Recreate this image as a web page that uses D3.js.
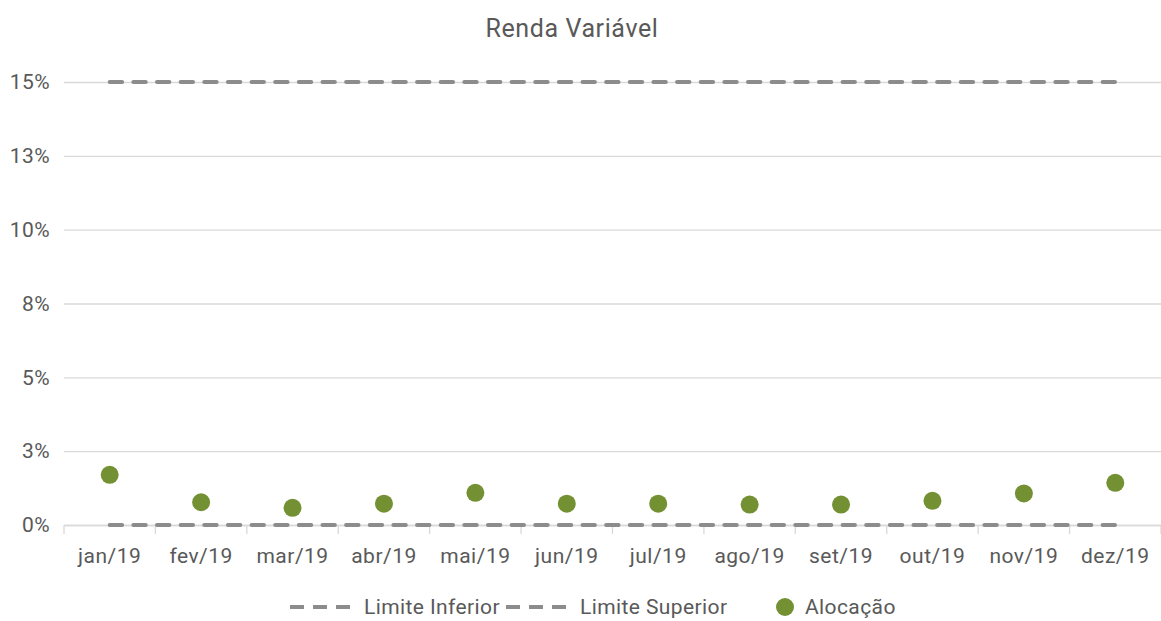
<!DOCTYPE html>
<html>
<head>
<meta charset="utf-8">
<script src="https://cdn.jsdelivr.net/npm/d3@7"></script>
<style>
  body { margin: 0; background: #fff; }
  text { font-family: Roboto, "Noto Sans", sans-serif; fill: #595959; }
</style>
</head>
<body>
<svg id="chart" width="1161" height="621"></svg>
<script>
const months = ['jan/19','fev/19','mar/19','abr/19','mai/19','jun/19','jul/19','ago/19','set/19','out/19','nov/19','dez/19'];
const alocacao = [1.70, 0.77, 0.58, 0.72, 1.09, 0.72, 0.72, 0.69, 0.69, 0.82, 1.07, 1.43];
const limiteInferior = [0,0,0,0,0,0,0,0,0,0,0,0];
const limiteSuperior = [15,15,15,15,15,15,15,15,15,15,15,15];
const yTicks = [0, 2.5, 5, 7.5, 10, 12.5, 15];

const w = 1161, h = 621;
const m = {top: 82, right: 0, bottom: 96, left: 64};
const svg = d3.select('#chart');

const x = d3.scaleBand().domain(months).range([m.left, w - m.right]);
const y = d3.scaleLinear().domain([0, 15]).range([h - m.bottom, m.top]);

// title
svg.append('text')
  .attr('x', 572).attr('y', 37)
  .attr('text-anchor', 'middle')
  .style('font-size', '25px')
  .style('letter-spacing', '0.6px')
  .text('Renda Variável');

// gridlines + y labels
const yAxis = d3.axisLeft(y)
  .tickValues(yTicks)
  .tickSize(-(w - m.left - m.right))
  .tickPadding(14)
  .tickFormat(d => Math.round(d) + '%');
const gy = svg.append('g')
  .attr('transform', 'translate(' + m.left + ',0)')
  .call(yAxis);
gy.select('.domain').remove();
gy.selectAll('line').attr('stroke', '#d9d9d9').attr('stroke-width', 1.3);
gy.selectAll('text').style('font-size', '21px').style('letter-spacing', '0.4px').attr('fill', '#595959');

// x axis
const xAxis = d3.axisBottom(x).tickSize(0).tickPadding(23);
const gx = svg.append('g')
  .attr('transform', 'translate(0,' + y(0) + ')')
  .call(xAxis);
gx.select('.domain').attr('stroke', '#d9d9d9').attr('stroke-width', 1.3);
gx.selectAll('text').style('font-size', '21px').style('letter-spacing', '0.5px').attr('fill', '#595959');
// tick marks at band boundaries
gx.selectAll('.bound')
  .data(months.concat(['end']))
  .enter().append('line')
  .attr('class', 'bound')
  .attr('x1', (d, i) => m.left + i * x.step())
  .attr('x2', (d, i) => m.left + i * x.step())
  .attr('y1', 0).attr('y2', 9)
  .attr('stroke', '#d9d9d9').attr('stroke-width', 1.3);

const cx = d => x(d) + x.bandwidth() / 2;

// limit lines
const line = d3.line().x(d => cx(d[0])).y(d => y(d[1]));
[limiteInferior, limiteSuperior].forEach(s => {
  svg.append('path')
    .datum(months.map((mo, i) => [mo, s[i]]))
    .attr('d', line)
    .attr('fill', 'none')
    .attr('stroke', '#8c8c8c')
    .attr('stroke-width', 4)
    .attr('stroke-linecap', 'round')
    .attr('stroke-dasharray', '12.4,11.24');
});

// points
svg.selectAll('.dot')
  .data(alocacao)
  .enter().append('circle')
  .attr('class', 'dot')
  .attr('cx', (d, i) => cx(months[i]))
  .attr('cy', d => y(d))
  .attr('r', 9)
  .attr('fill', '#739133');

// legend
const ly = 607;
const legend = svg.append('g');
const dashItems = [{x: 290, label: 'Limite Inferior'}, {x: 506, label: 'Limite Superior'}];
dashItems.forEach(it => {
  legend.append('line')
    .attr('x1', it.x).attr('x2', it.x + 60)
    .attr('y1', ly).attr('y2', ly)
    .attr('stroke', '#8c8c8c')
    .attr('stroke-width', 4)
    .attr('stroke-dasharray', '14,9');
  legend.append('text')
    .attr('x', it.x + 74).attr('y', ly + 7)
    .style('font-size', '21px')
    .style('letter-spacing', '0.4px')
    .text(it.label);
});
legend.append('circle')
  .attr('cx', 785).attr('cy', ly).attr('r', 9)
  .attr('fill', '#739133');
legend.append('text')
  .attr('x', 805).attr('y', ly + 7)
  .style('font-size', '21px')
  .style('letter-spacing', '0.4px')
  .text('Alocação');
</script>
</body>
</html>
